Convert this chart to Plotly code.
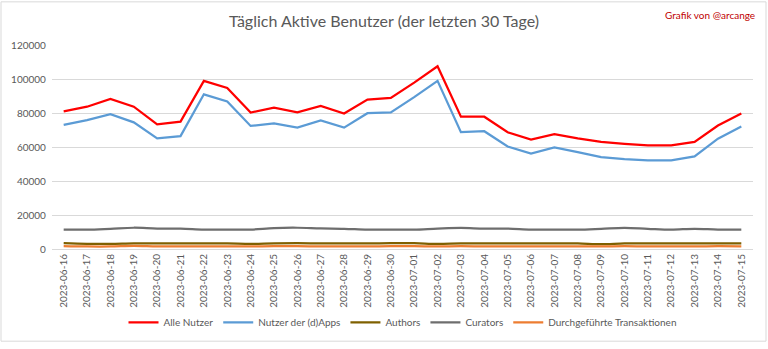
import plotly.graph_objects as go

dates = ["2023-06-16","2023-06-17","2023-06-18","2023-06-19","2023-06-20","2023-06-21","2023-06-22",
         "2023-06-23","2023-06-24","2023-06-25","2023-06-26","2023-06-27","2023-06-28","2023-06-29",
         "2023-06-30","2023-07-01","2023-07-02","2023-07-03","2023-07-04","2023-07-05","2023-07-06",
         "2023-07-07","2023-07-08","2023-07-09","2023-07-10","2023-07-11","2023-07-12","2023-07-13",
         "2023-07-14","2023-07-15"]

alle_nutzer = [81000, 83700, 88300, 83700, 73300, 74900, 98900, 94700, 80300, 83100,
               80400, 84100, 79700, 87900, 88900, 97900, 107500, 77800, 77800, 68700,
               64300, 67600, 65100, 63000, 61800, 60900, 60900, 63000, 72600, 79700]
nutzer_dapps = [73000, 75800, 79300, 74500, 65100, 66400, 91000, 86800, 72400, 73900,
                71400, 75600, 71400, 79900, 80400, 89300, 98900, 68700, 69300, 60300,
                56100, 59700, 57000, 54000, 52800, 52200, 52200, 54500, 64900, 72000]
authors = [3400, 3000, 3000, 3300, 3300, 3300, 3300, 3300, 3000, 3300,
           3400, 3300, 3300, 3300, 3400, 3400, 3000, 3300, 3300, 3300,
           3300, 3300, 3300, 2800, 3300, 3300, 3300, 3300, 3300, 3300]
curators = [11400, 11400, 11900, 12500, 12000, 12000, 11400, 11400, 11400, 12300,
            12500, 12100, 11900, 11400, 11400, 11400, 12000, 12400, 12000, 12000,
            11400, 11400, 11400, 11900, 12500, 11900, 11400, 11900, 11400, 11400]
transaktionen = [1700, 1500, 1500, 1800, 1500, 1500, 1500, 1500, 1500, 1700,
                 1700, 1500, 1500, 1500, 1700, 1700, 1500, 1700, 1500, 1500,
                 1500, 1600, 1600, 1500, 1700, 1500, 1600, 1500, 1700, 1600]

series = [
    ("Alle Nutzer", alle_nutzer, "#FF0000", 2.25, "linear"),
    ("Nutzer der (d)Apps", nutzer_dapps, "#5B9BD5", 2.25, "linear"),
    ("Authors", authors, "#7F6000", 2.25, "spline"),
    ("Curators", curators, "#6E6E6E", 2.25, "spline"),
    ("Durchgeführte Transaktionen", transaktionen, "#ED7D31", 2.25, "spline"),
]

fig = go.Figure()
for name, vals, color, w, shape in series:
    fig.add_trace(go.Scatter(x=dates, y=vals, name=name, mode="lines",
                             line=dict(color=color, width=w, shape=shape)))

ml, mr, mt, mb = 52, 15, 45, 96
W, H = 768, 349
pw, ph = W - ml - mr, H - mt - mb

fig.update_layout(
    width=W, height=H,
    margin=dict(l=ml, r=mr, t=mt, b=mb),
    paper_bgcolor="white", plot_bgcolor="white",
    font=dict(family="Lato, 'Open Sans', sans-serif", color="#595959", size=10),
    title=dict(text="Täglich Aktive Benutzer (der letzten 30 Tage)",
               x=0.5, xanchor="center", y=0.94, yanchor="middle",
               font=dict(size=16, color="#595959")),
    showlegend=True,
    legend=dict(orientation="h", x=0.5, xanchor="center", y=-0.36, yanchor="middle",
                font=dict(size=10, color="#595959"), itemwidth=30,
                bgcolor="rgba(0,0,0,0)"),
    xaxis=dict(type="category", range=[-0.5, 29.5], tickangle=-90, showgrid=False,
               showline=True, linecolor="#D9D9D9", linewidth=1, ticks="",
               tickfont=dict(size=10, color="#595959"), fixedrange=True),
    yaxis=dict(range=[0, 120000], dtick=20000, showgrid=True, gridcolor="#D9D9D9",
               gridwidth=1, zeroline=False, showline=False, ticks="",
               tickfont=dict(size=10, color="#595959"), ticksuffix="  ",
               tickformat="d"),
)

fig.add_annotation(text="Grafik von @arcange", xref="paper", yref="paper",
                   x=(757 - ml) / pw, y=(H - mb - 14) / ph, xanchor="right", yanchor="middle",
                   showarrow=False, font=dict(size=10, color="#C00000"))

fig.add_shape(type="rect", xref="paper", yref="paper",
              x0=(1 - ml) / pw, x1=(W - 2 - ml) / pw,
              y0=-(mb - 2) / ph, y1=(H - mb - 1) / ph,
              line=dict(color="#D9D9D9", width=1), layer="below")

fig.write_html("out.html")
